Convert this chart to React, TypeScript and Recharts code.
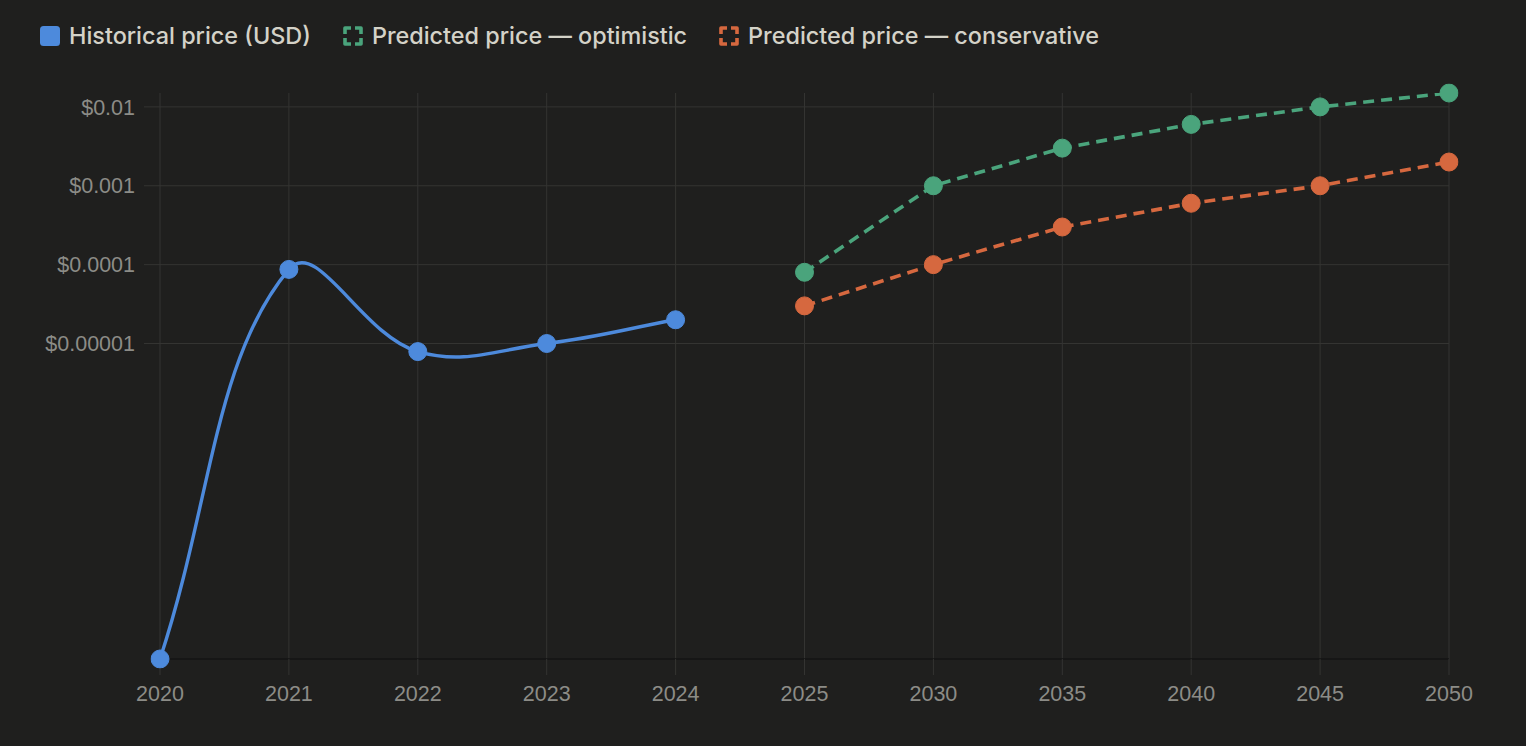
import React from 'react';
import {
  LineChart,
  Line,
  XAxis,
  YAxis,
  CartesianGrid,
  Legend,
} from 'recharts';

// Categories on the x axis (yearly, then every 5 years)
const years = ['2020', '2021', '2022', '2023', '2024', '2025', '2030', '2035', '2040', '2045', '2050'];

// Price series in USD, null where a series has no value
const historical = [1e-9, 8.7e-5, 7.9e-6, 1e-5, 2e-5, null, null, null, null, null, null];
const optimistic = [null, null, null, null, null, 8e-5, 1e-3, 3e-3, 6e-3, 1e-2, 1.5e-2];
const conservative = [null, null, null, null, null, 3e-5, 1e-4, 3e-4, 6e-4, 1e-3, 2e-3];

const yTicks = [0.00001, 0.0001, 0.001, 0.01];

const BG = '#1f1f1e';
const GRID = '#343432';
const TICK = '#8c8c87';
const LEGEND_TEXT = '#d4d2c8';

const series = [
  { key: 'historical', name: 'Historical price (USD)', color: '#4d8adc', dashed: false },
  { key: 'optimistic', name: 'Predicted price — optimistic', color: '#4aa47c', dashed: true },
  { key: 'conservative', name: 'Predicted price — conservative', color: '#d6683f', dashed: true },
];

const data = years.map((year, i) => ({
  year,
  historical: historical[i],
  optimistic: optimistic[i],
  conservative: conservative[i],
}));

const allValues = [...historical, ...optimistic, ...conservative].filter((v): v is number => v != null);
const yMin = Math.min(...allValues);
const yMax = Math.max(...allValues);

// bezier spline like the "tension" curves of other chart libs
const tensionCurve = (tension: number) => (context: any) => {
  let pts: [number, number][] = [];
  return {
    areaStart() {},
    areaEnd() {},
    lineStart() {
      pts = [];
    },
    point(x: number, y: number) {
      pts.push([+x, +y]);
    },
    lineEnd() {
      const n = pts.length;
      if (!n) return;
      const cps = pts.map((cur, i) => {
        const prev = pts[Math.max(i - 1, 0)];
        const next = pts[Math.min(i + 1, n - 1)];
        const d01 = Math.hypot(cur[0] - prev[0], cur[1] - prev[1]);
        const d12 = Math.hypot(next[0] - cur[0], next[1] - cur[1]);
        let s01 = d01 / (d01 + d12);
        let s12 = d12 / (d01 + d12);
        if (isNaN(s01)) s01 = 0;
        if (isNaN(s12)) s12 = 0;
        const fa = tension * s01;
        const fb = tension * s12;
        return {
          c1: [cur[0] - fa * (next[0] - prev[0]), cur[1] - fa * (next[1] - prev[1])],
          c2: [cur[0] + fb * (next[0] - prev[0]), cur[1] + fb * (next[1] - prev[1])],
        };
      });
      context.moveTo(pts[0][0], pts[0][1]);
      for (let i = 1; i < n; i++) {
        context.bezierCurveTo(cps[i - 1].c2[0], cps[i - 1].c2[1], cps[i].c1[0], cps[i].c1[1], pts[i][0], pts[i][1]);
      }
    },
  };
};

const LegendIcon = ({ color, dashed }: { color: string; dashed: boolean }) => (
  <svg width={20} height={20} style={{ display: 'block' }}>
    {dashed ? (
      <path
        d="M2 8 V2 H8 M12 2 H18 V8 M18 12 V18 H12 M8 18 H2 V12"
        fill="none"
        stroke={color}
        strokeWidth={3.6}
        strokeLinejoin="round"
      />
    ) : (
      <rect x={0} y={0} width={20} height={20} rx={3.5} fill={color} />
    )}
  </svg>
);

const renderLegend = () => (
  <div
    style={{
      height: 93,
      boxSizing: 'border-box',
      paddingTop: 23,
      paddingLeft: 40,
      display: 'flex',
      alignItems: 'flex-start',
      fontFamily: 'Inter, "Noto Sans", sans-serif',
      fontSize: 23.4,
      fontWeight: 500,
      lineHeight: '26px',
      color: LEGEND_TEXT,
    }}
  >
    {series.map((s) => (
      <div key={s.key} style={{ display: 'flex', alignItems: 'center', marginRight: 32 }}>
        <LegendIcon color={s.color} dashed={s.dashed} />
        <span style={{ marginLeft: 9, whiteSpace: 'nowrap' }}>{s.name}</span>
      </div>
    ))}
  </div>
);

const tickStyle = { fill: TICK, fontSize: 21.5, fontFamily: '"Liberation Sans", Arial, sans-serif' };

const dotStyle = (color: string) => ({ r: 9, fill: color, stroke: color, strokeWidth: 1, strokeDasharray: '0', clipDot: false });

export default function App() {
  return (
    <div style={{ width: 1526, height: 746, background: BG }}>
      <style>{`body{margin:0;background:${BG};}`}</style>
      <LineChart width={1526} height={746} data={data} margin={{ top: 0, right: 77, bottom: 37, left: 0 }}>
        <CartesianGrid stroke={GRID} strokeWidth={1} horizontalValues={yTicks} />
        <Legend verticalAlign="top" align="left" content={renderLegend} wrapperStyle={{ left: 0, top: 0, width: 1526 }} />
        <XAxis
          dataKey="year"
          interval={0}
          height={50}
          tickSize={16}
          tickMargin={11}
          tickLine={{ stroke: GRID }}
          axisLine={{ stroke: '#151514', strokeWidth: 1.5 }}
          tick={tickStyle}
        />
        <YAxis
          type="number"
          scale="log"
          domain={[yMin, yMax]}
          allowDataOverflow
          ticks={yTicks}
          width={160}
          tickSize={16}
          tickMargin={9}
          tickLine={{ stroke: GRID }}
          axisLine={false}
          tick={tickStyle}
          tickFormatter={(v: number) => `$${v}`}
        />
        <Line
          dataKey="historical"
          name={series[0].name}
          type={tensionCurve(0.4) as any}
          stroke={series[0].color}
          strokeWidth={3.4}
          dot={dotStyle(series[0].color)}
          activeDot={false}
          connectNulls={false}
          isAnimationActive={false}
        />
        <Line
          dataKey="optimistic"
          name={series[1].name}
          type="linear"
          stroke={series[1].color}
          strokeWidth={3.6}
          strokeDasharray="11 7"
          dot={dotStyle(series[1].color)}
          activeDot={false}
          connectNulls={false}
          isAnimationActive={false}
        />
        <Line
          dataKey="conservative"
          name={series[2].name}
          type="linear"
          stroke={series[2].color}
          strokeWidth={3.6}
          strokeDasharray="11 7"
          dot={dotStyle(series[2].color)}
          activeDot={false}
          connectNulls={false}
          isAnimationActive={false}
        />
      </LineChart>
    </div>
  );
}
